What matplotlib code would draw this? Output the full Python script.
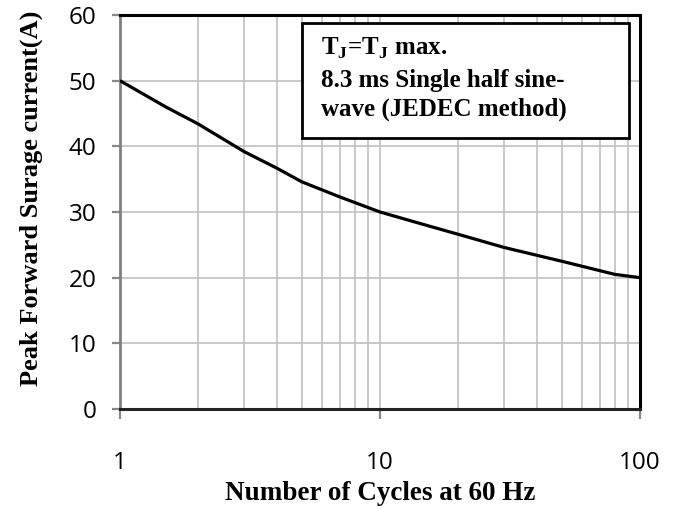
import matplotlib
matplotlib.use("Agg")
import matplotlib.pyplot as plt
from matplotlib.patches import Rectangle
from matplotlib.ticker import FixedLocator, NullFormatter

# surge rating curve
cycles = [1, 1.5, 2, 3, 4, 5, 7, 10, 15, 20, 30, 50, 80, 100]
current = [50, 46.0, 43.4, 39.2, 36.7, 34.6, 32.3, 30, 28.0, 26.6, 24.6, 22.5, 20.5, 20]

y_ticks = [0, 10, 20, 30, 40, 50, 60]
x_ticks = [1, 10, 100]
x_tick_labels = ["1", "10", "100"]
minor_x = [m * d for d in (1, 10) for m in range(2, 10)]

note_lines = [
    r"T$_\mathregular{J}$=T$_\mathregular{J}$ max.",
    "8.3 ms Single half sine-",
    "wave (JEDEC method)",
]

serif = "Liberation Serif"
sans = "Open Sans"

fig = plt.figure(figsize=(6.78, 5.09), dpi=100)
ax = fig.add_axes([0.177, 0.1965, 0.767, 0.774])

ax.plot(cycles, current, color="black", lw=2.3, solid_capstyle="butt",
        solid_joinstyle="round", zorder=3)

ax.set_xscale("log")
ax.set_xlim(1, 100)
ax.set_ylim(0, 60)
ax.set_xticks(x_ticks)
ax.set_xticklabels(x_tick_labels)
ax.xaxis.set_minor_locator(FixedLocator(minor_x))
ax.xaxis.set_minor_formatter(NullFormatter())
ax.set_yticks(y_ticks)

ax.grid(True, which="both", color="#c0c0c0", lw=1.2, zorder=0)
ax.tick_params(axis="x", which="minor", length=0)
ax.tick_params(axis="x", which="major", length=7, width=1.6, color="#888888",
               pad=23, labelsize=17.5)
ax.tick_params(axis="y", length=6, width=1.6, color="#888888", pad=11,
               labelsize=17.5)
for lab in ax.get_xticklabels() + ax.get_yticklabels():
    lab.set_fontfamily(sans)

ax.spines["left"].set_color("#808080")
ax.spines["left"].set_linewidth(2)
ax.spines["bottom"].set_color("#222222")
ax.spines["bottom"].set_linewidth(2.2)
for side in ("top", "right"):
    ax.spines[side].set_color("black")
    ax.spines[side].set_linewidth(2.2)

ax.set_xlabel("Number of Cycles at 60 Hz", family=serif, weight="bold",
              fontsize=19.5)
ax.xaxis.set_label_coords(0.5, -0.182)
ax.set_ylabel("Peak Forward Surage current(A)", family=serif, weight="bold",
              fontsize=19)
ax.yaxis.set_label_coords(-0.148, 0.535)

# note box
ax.add_patch(Rectangle((0.35, 0.688), 0.629, 0.292, transform=ax.transAxes,
                       facecolor="white", edgecolor="black", lw=2, zorder=4))
for text, ypos in zip(note_lines, [0.898, 0.817, 0.744]):
    ax.text(0.387, ypos, text, transform=ax.transAxes, family=serif,
            weight="bold", fontsize=18, va="baseline", ha="left", zorder=5)

fig.savefig("out.png", dpi=100)
